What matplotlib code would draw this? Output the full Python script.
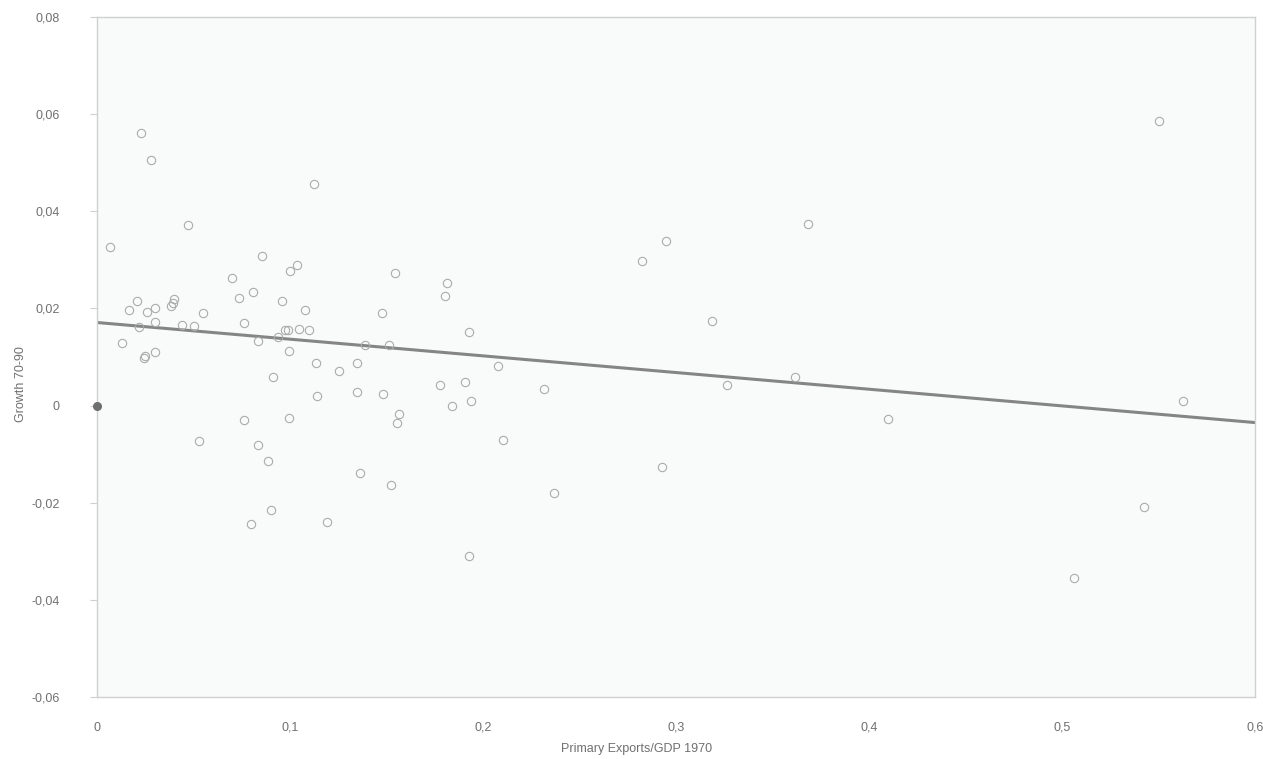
import numpy as np
import matplotlib
matplotlib.use("Agg")
import matplotlib.pyplot as plt
from matplotlib.ticker import FuncFormatter

plt.rcParams['font.family'] = ['Liberation Sans', 'DejaVu Sans']

# Primary exports / GDP 1970 (x) and growth 1970-90 (y)
exports = [
    0.0226, 0.0278, 0.1126, 0.0473, 0.0067, 0.0855, 0.1035, 0.1000, 0.0698,
    0.0810, 0.0736, 0.0957, 0.0400, 0.0395, 0.0383, 0.0205, 0.0167, 0.0261,
    0.0300, 0.0551, 0.1078, 0.0219, 0.0300, 0.0439, 0.0504, 0.0762, 0.0974,
    0.0988, 0.1048, 0.1100, 0.0836, 0.0940, 0.0130, 0.0249, 0.0244, 0.0300,
    0.0995, 0.1135, 0.1252, 0.0910, 0.1141, 0.0762, 0.0995, 0.0530, 0.0836,
    0.0884, 0.0902, 0.0798, 0.1193, 0.1544, 0.1812, 0.1803, 0.1475, 0.1927,
    0.1389, 0.1515, 0.2076, 0.1349, 0.1777, 0.1907, 0.1349, 0.1484, 0.2316,
    0.1841, 0.1936, 0.1565, 0.1553, 0.2106, 0.1363, 0.1523, 0.2369, 0.1927,
    0.3686, 0.2948, 0.2826, 0.3188, 0.3262, 0.3617, 0.4100, 0.2929, 0.5504,
    0.5625, 0.5427, 0.5064,
]
growth = [
    0.0561, 0.0505, 0.0456, 0.0372, 0.0327, 0.0308, 0.0289, 0.0277, 0.0263,
    0.0234, 0.0221, 0.0215, 0.0219, 0.0212, 0.0205, 0.0216, 0.0197, 0.0193,
    0.0201, 0.0191, 0.0197, 0.0161, 0.0172, 0.0165, 0.0164, 0.0170, 0.0155,
    0.0155, 0.0158, 0.0155, 0.0133, 0.0142, 0.0128, 0.0102, 0.0098, 0.0110,
    0.0112, 0.0087, 0.0072, 0.0058, 0.0019, -0.0029, -0.0025, -0.0072, -0.0082,
    -0.0115, -0.0214, -0.0244, -0.0240, 0.0272, 0.0252, 0.0225, 0.0191, 0.0151,
    0.0124, 0.0124, 0.0081, 0.0087, 0.0043, 0.0048, 0.0027, 0.0024, 0.0034,
    0.0000, 0.0010, -0.0017, -0.0036, -0.0070, -0.0139, -0.0164, -0.0180, -0.0309,
    0.0373, 0.0339, 0.0298, 0.0175, 0.0043, 0.0058, -0.0027, -0.0127, 0.0586,
    0.0010, -0.0209, -0.0354,
]

# fitted line end points and the highlighted origin point
fit_x = [0.0, 0.6]
fit_y = [0.0171, -0.0035]
origin_x = [0.0]
origin_y = [0.0]

xticks = [0, 0.1, 0.2, 0.3, 0.4, 0.5, 0.6]
yticks = [-0.06, -0.04, -0.02, 0, 0.02, 0.04, 0.06, 0.08]


def comma(v, pos):
    if abs(v) < 1e-12:
        return "0"
    return f"{v:g}".replace(".", ",")


fig = plt.figure(figsize=(12.63, 7.59), dpi=100)
fig.patch.set_facecolor("white")
ax = fig.add_axes([0.0768, 0.0817, 0.9169, 0.8959])
ax.set_facecolor("#f9fbfb")

ax.plot(fit_x, fit_y, color="#858585", lw=2.2, zorder=2)
ax.plot(exports, growth, "o", ms=6, mfc="none", mec="#ababab", mew=0.8, zorder=3)
ax.plot(origin_x, origin_y, "o", ms=5.5, color="#6e6e6e", clip_on=False, zorder=4)

ax.set_xlim(0, 0.6)
ax.set_ylim(-0.06, 0.08)
ax.set_xticks(xticks)
ax.set_yticks(yticks)
ax.xaxis.set_major_formatter(FuncFormatter(comma))
ax.yaxis.set_major_formatter(FuncFormatter(comma))

for s in ax.spines.values():
    s.set_color("#d0d0d0")
    s.set_linewidth(1)
ax.tick_params(axis="y", colors="#d0d0d0", labelcolor="#707070", labelsize=9,
               length=5, pad=22)
ax.tick_params(axis="x", length=0, labelcolor="#707070", labelsize=9, pad=18)

ax.set_xlabel("Primary Exports/GDP 1970", fontsize=9, color="#707070", va="center")
ax.xaxis.set_label_coords(0.466, -0.077)
ax.set_ylabel("Growth 70-90", fontsize=9, color="#707070", va="center")
ax.yaxis.set_label_coords(-0.066, 0.46)

fig.savefig("out.png", dpi=100)
